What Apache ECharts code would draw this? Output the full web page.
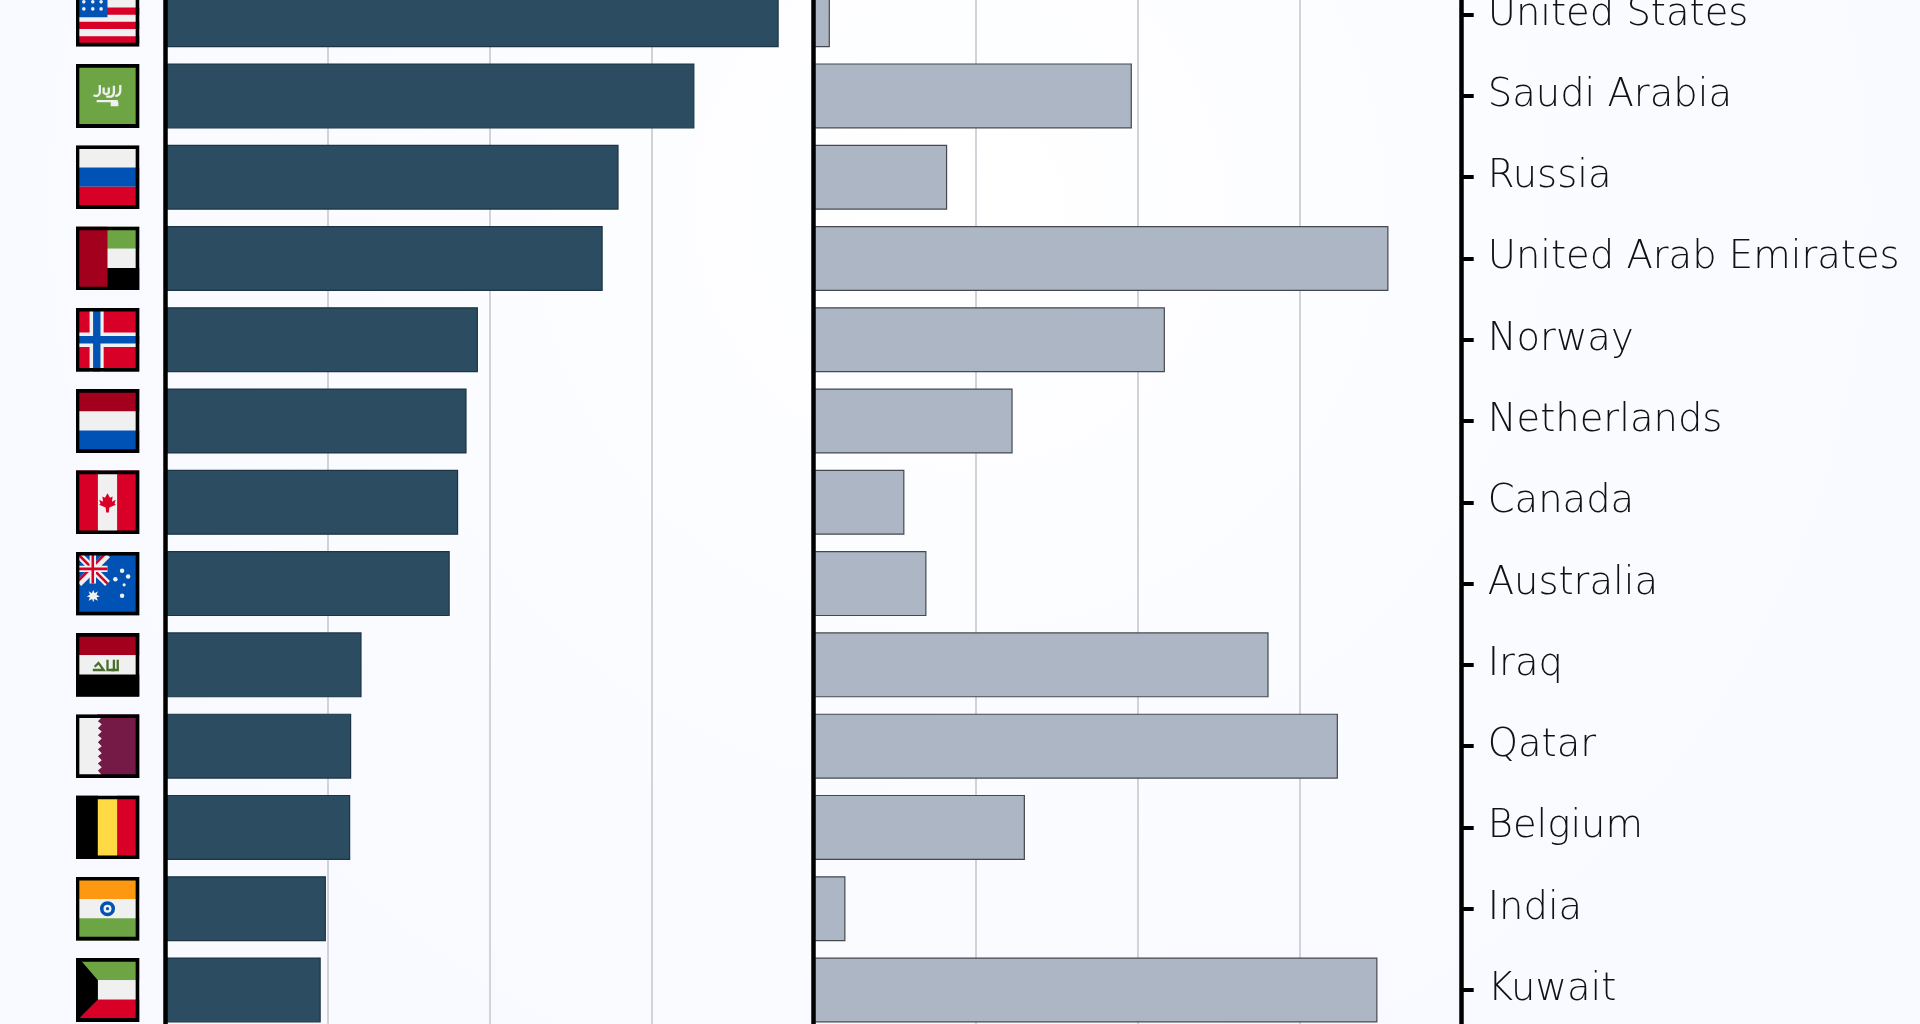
<!DOCTYPE html>
<html>
<head>
<meta charset="utf-8">
<title>Chart</title>
<style>
  html, body { margin: 0; padding: 0; background: #fff; }
  #main { width: 1920px; height: 1024px; }
</style>
<script src="https://cdn.jsdelivr.net/npm/echarts@6/dist/echarts.min.js"></script>
</head>
<body>
<div id="main"></div>
<script>
const countries = [
  "United States", "Saudi Arabia", "Russia", "United Arab Emirates", "Norway",
  "Netherlands", "Canada", "Australia", "Iraq", "Qatar", "Belgium", "India", "Kuwait",
];
// the tick labels are outside the crop so the units are a guess
const leftValues = [189.2, 163.2, 139.8, 134.9, 96.4, 92.9, 90.3, 87.7, 60.5, 57.3, 57.0, 49.5, 47.9];
const rightValues = [2.5, 49.1, 20.6, 88.7, 54.2, 30.7, 14.0, 17.4, 70.2, 80.9, 32.6, 4.9, 87.0];

// little flag drawings, same order as countries (viewBox 0 0 100 100)
const band = (y, h, c) => `<rect x="0" y="${y}" width="100" height="${h}" fill="${c}"/>`;
const col = (x, w, c) => `<rect x="${x}" y="0" width="${w}" height="100" fill="${c}"/>`;
const star = (x, y, r) => `<circle cx="${x}" cy="${y}" r="${r}" fill="#f0f0f0"/>`;
const flags = [
  // United States
  band(0, 100, "#f0f0f0") + band(16, 11.25, "#d80027") + band(38.75, 11.25, "#d80027") +
    band(61.25, 11.25, "#d80027") + band(83.75, 11.25, "#d80027") +
    `<rect x="0" y="0" width="50" height="54" fill="#0052b4"/>` +
    star(13, 30, 2.8) + star(27, 30, 2.8) + star(40, 30, 2.8) + star(13, 41, 2.8) + star(27, 41, 2.8) + star(40, 41, 2.8) +
    star(13, 18, 2.8) + star(27, 18, 2.8) + star(40, 18, 2.8),
  // Saudi Arabia
  band(0, 100, "#6da544") +
    `<g fill="none" stroke="#f0f0f0" stroke-width="3.6">
      <path d="M28 49 Q36 52 38 45 L38 33"/>
      <path d="M44 37 L44 45 Q48 49 52 45 L52 37"/>
      <path d="M48 51 L56 51 Q60 50 60 44 L60 34"/>
      <path d="M70 33 L70 42 Q69 50 62 50"/>
      <path d="M33 58 L66 58"/>
    </g>
    <rect x="55" y="59" width="12" height="7" fill="#f0f0f0"/>`,
  // Russia
  band(0, 35, "#f0f0f0") + band(35, 30, "#0052b4") + band(65, 35, "#d80027"),
  // United Arab Emirates
  band(0, 35, "#6da544") + band(35, 30, "#f0f0f0") + band(65, 35, "#000") + col(0, 50, "#a2001d"),
  // Norway
  band(0, 100, "#d80027") + col(22, 22, "#f0f0f0") + band(38.5, 23, "#f0f0f0") + col(27.5, 11.5, "#0052b4") + band(44, 12, "#0052b4"),
  // Netherlands
  band(0, 35, "#a2001d") + band(35, 30, "#f0f0f0") + band(65, 35, "#0052b4"),
  // Canada
  band(0, 100, "#d80027") + col(35, 30, "#f0f0f0") +
    `<path d="M50 36 L54 43 L58 41 L57 49 L63 46 L61 52 L63 54 L53 58 L52 66 L48 66 L47 58 L37 54 L39 52 L37 46 L43 49 L42 41 L46 43 Z" fill="#d80027"/>`,
  // Australia
  band(0, 100, "#0052b4") +
    `<path d="M5 5 L50 50 M50 5 L5 50" stroke="#f0f0f0" stroke-width="11"/>
     <path d="M0 0 L50 50 M50 0 L0 50" stroke="#d80027" stroke-width="4"/>
     <path d="M22 0 H32 V22 H50 V32 H32 V50 H22 V32 H0 V22 H22 Z" fill="#f0f0f0"/>
     <path d="M25 0 H29 V25 H50 V29 H29 V50 H25 V29 H0 V25 H25 Z" fill="#d80027"/>
     <path d="M27.7 60 L30 65 L35 62 L33 67.5 L38 70 L33 71.5 L35 77 L29.5 74 L27.7 79 L26 74 L20.5 77 L22.5 71.5 L17.5 70 L22.5 67.5 L20.5 62 L25.5 65 Z" fill="#f0f0f0"/>` +
    star(72.8, 29.8, 3.5) + star(62.3, 43.4, 3.5) + star(82.2, 39, 3.5) + star(76, 52, 2.5) + star(72.8, 69, 3.5),
  // Iraq
  band(0, 35, "#a2001d") + band(35, 30, "#f0f0f0") + band(65, 35, "#000") +
    `<g fill="none" stroke="#496e2d" stroke-width="3.6">
      <path d="M27 58 L44 58 L36 47 L30 53"/>
      <path d="M50 42 L50 58 L60 58 L60 42"/>
      <path d="M66 42 L66 58 L56 58"/>
    </g>`,
  // Qatar
  band(0, 100, "#f0f0f0") +
    `<path d="M100 0 L33 0 L41 5 L35 11 L41 16 L35 22 L41 27 L35 33 L41 38 L35 44 L41 50 L35 55 L41 61 L35 66 L41 72 L35 77 L41 83 L35 88 L41 95 L35 100 L100 100 Z" fill="#751a46"/>`,
  // Belgium
  col(0, 35, "#000") + col(35, 30, "#ffda44") + col(65, 35, "#d80027"),
  // India
  band(0, 35, "#ff9811") + band(35, 30, "#f0f0f0") + band(65, 35, "#6da544") +
    `<circle cx="50" cy="50" r="9" fill="none" stroke="#0052b4" stroke-width="5.5"/>
     <circle cx="50" cy="50" r="2.5" fill="#0052b4"/>`,
  // Kuwait
  band(0, 35, "#6da544") + band(35, 30, "#f0f0f0") + band(65, 35, "#d80027") +
    `<path d="M0 0 L5 0 L35 35 L35 65 L5 95 L0 100 Z" fill="#000"/>`,
];

function flagImage(body) {
  const svg = `<svg xmlns="http://www.w3.org/2000/svg" width="64" height="64" viewBox="0 0 100 100">${body}` +
    `<rect x="3" y="3" width="94" height="94" fill="none" stroke="#000" stroke-width="6"/></svg>`;
  return "data:image/svg+xml;charset=utf-8," + encodeURIComponent(svg);
}

const flagRich = {};
flags.forEach((body, i) => {
  flagRich["f" + i] = { width: 64, height: 64, backgroundColor: { image: flagImage(body) } };
});

const chart = echarts.init(document.getElementById("main"));

const baseY = { type: "category", data: countries, inverse: true };
const gridLine = { show: true, lineStyle: { color: "#d2d3d8", width: 2 } };

chart.setOption({
  animation: false,
  backgroundColor: {
    type: "radial", x: 0.5, y: 0.2, r: 0.9,
    colorStops: [
      { offset: 0, color: "#ffffff" },
      { offset: 1, color: "#f8faff" },
    ],
  },
  grid: [
    { left: 165.5, width: 648.2, top: -26, height: 1056.6, outerBoundsMode: "none" },
    { left: 813.7, width: 648, top: -26, height: 1056.6, outerBoundsMode: "none" },
  ],
  xAxis: [
    {
      gridIndex: 0, type: "value", min: 0, max: 200, interval: 50,
      axisLine: { show: false }, axisTick: { show: false }, axisLabel: { show: false }, splitLine: gridLine,
    },
    {
      gridIndex: 1, type: "value", min: 0, max: 100, interval: 25,
      axisLine: { show: false }, axisTick: { show: false }, axisLabel: { show: false }, splitLine: gridLine,
    },
  ],
  yAxis: [
    {
      ...baseY, gridIndex: 0, position: "left", z: 5,
      axisLine: { show: true, lineStyle: { color: "#000", width: 4.5 } },
      axisTick: { show: false },
      axisLabel: {
        interval: 0, margin: 26,
        formatter: (value) => `{f${countries.indexOf(value)}|}`,
        rich: flagRich,
      },
    },
    {
      ...baseY, gridIndex: 1, position: "left", z: 5,
      axisLine: { show: true, lineStyle: { color: "#000", width: 4.5 } },
      axisTick: { show: false },
      axisLabel: { show: false },
    },
    {
      ...baseY, gridIndex: 1, position: "right", z: 5,
      axisLine: { show: true, lineStyle: { color: "#000", width: 4.5 } },
      axisTick: { show: true, alignWithLabel: true, length: 12, lineStyle: { color: "#000", width: 4 } },
      axisLabel: {
        interval: 0, margin: 26, color: "#111",
        fontFamily: "DejaVu Sans", fontWeight: 200, fontSize: 38.5,
        padding: [3, 0, 0, 0],
      },
    },
  ],
  series: [
    {
      type: "bar", xAxisIndex: 0, yAxisIndex: 0, data: leftValues, barWidth: 65,
      itemStyle: { color: "#2b4c61", borderColor: "#1d3443", borderWidth: 1.2 },
    },
    {
      type: "bar", xAxisIndex: 1, yAxisIndex: 1, data: rightValues, barWidth: 65,
      itemStyle: { color: "#adb6c5", borderColor: "#45494f", borderWidth: 1.2 },
    },
  ],
});
</script>
</body>
</html>
